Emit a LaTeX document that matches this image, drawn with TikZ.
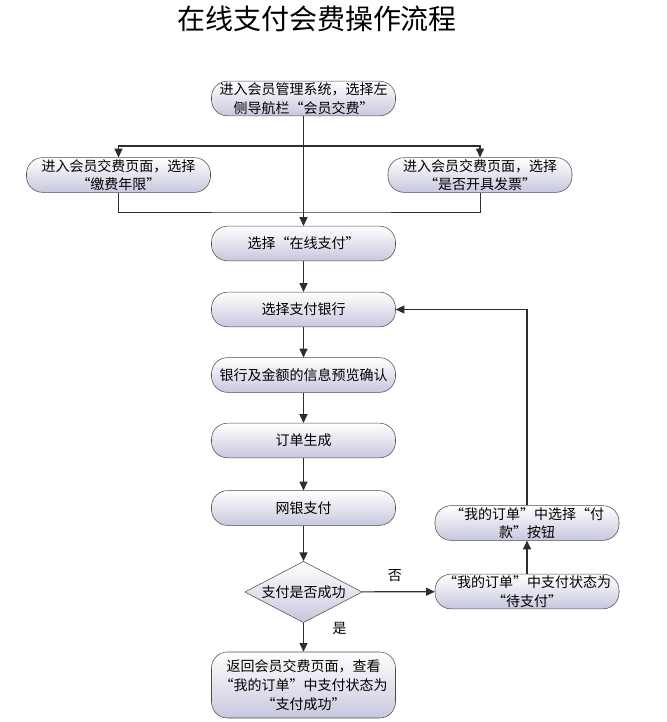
\documentclass[tikz,border=0pt]{standalone}
\usepackage{fontspec}
\setmainfont{Noto Sans CJK SC}
\usetikzlibrary{shapes.geometric,arrows.meta}

\tikzset{
  box/.style={draw=gray!60!black, top color=white, bottom color=blue!25!gray!35,
    rounded corners=12pt, minimum width=138pt, minimum height=26pt, inner sep=1pt,
    align=center, font=\fontsize{10.5pt}{14pt}\selectfont},
  decide/.style={draw=gray!60!black, top color=white, bottom color=blue!25!gray!35,
    diamond, minimum width=88pt, minimum height=46pt, inner sep=0pt},
  link/.style={draw=gray!35!black, line width=0.9pt},
  arr/.style={link, -{Triangle[width=6pt,length=6.5pt]}},
  tag/.style={font=\fontsize{10.5pt}{12pt}\selectfont}
}

\begin{document}
\begin{tikzpicture}[x=0.75pt,y=-0.75pt]
\useasboundingbox (0,0) rectangle (667,722);
%\draw[step=50,gray,very thin] (0,0) grid (667,722); %background grid

\node (title) at (317,19) {\fontsize{21pt}{24pt}\selectfont 在线支付会费操作流程};

\node[box] (enter) at (303.5,98.5) {进入会员管理系统，选择左\\侧导航栏“会员交费”};
\node[box] (years) at (118.5,175) {进入会员交费页面，选择\\“缴费年限”};
\node[box] (invoice) at (480,175) {进入会员交费页面，选择\\“是否开具发票”};

\node[box] (online) at (303.5,243.5) {选择“在线支付”};
\node[box] (bank) at (303.5,309.5) {选择支付银行};
\node[box] (preview) at (303.5,375) {银行及金额的信息预览确认};
\node[box] (order) at (303.5,440.5) {订单生成};
\node[box] (ebank) at (303.5,508) {网银支付};

\node[decide, label={[tag]center:支付是否成功}] (check) at (303.5,592) {};

\node[box, minimum height=49.5pt] (done) at (303.5,685) {返回会员交费页面，查看\\“我的订单”中支付状态为\\“支付成功”};
\node[box] (pending) at (527,591.5) {“我的订单”中支付状态为\\“待支付”};
\node[box] (pay) at (527,523) {“我的订单”中选择“付\\款”按钮};

\coordinate (split) at (303.5,146);
\coordinate (join) at (303.5,212);

% top part
\draw[arr] (enter) -- (online);
\draw[arr] (split) -| (years);
\draw[arr] (split) -| (invoice);
\draw[link, line width=0.6pt] (years) |- (join) -| (invoice);

% main line
\draw[arr] (online) -- (bank);
\draw[arr] (bank) -- (preview);
\draw[arr] (preview) -- (order);
\draw[arr] (order) -- (ebank);
\draw[arr] (ebank) -- (check);
\draw[arr] (check) -- node[tag, pos=0.2, right=18pt] (yes) {是} (done);

% retry loop
\draw[arr] (check) -- node[tag, above=4pt, pos=0.45] (no) {否} (pending);
\draw[arr] (pending) -- (pay);
\draw[arr] (pay) |- (bank);

\end{tikzpicture}
\end{document}
